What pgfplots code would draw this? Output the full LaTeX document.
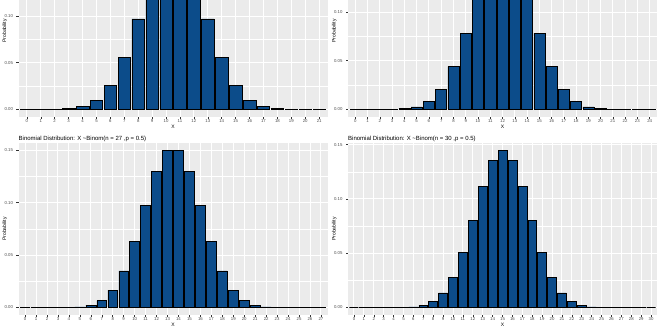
\documentclass[border=0pt]{standalone}
\usepackage{fontspec}
\setmainfont{Liberation Sans}
\usepackage{pgfplots}
\pgfplotsset{compat=1.18}
\definecolor{esq}{HTML}{0C4C8A}
\definecolor{panelbg}{HTML}{EBEBEB}
\definecolor{gray30}{HTML}{4D4D4D}
\definecolor{gray20}{HTML}{333333}

\pgfplotsset{binom/.style={
  scale only axis, width=309pt, height=172.5pt,
  /pgf/number format/assume math mode=true,
  axis background/.style={fill=panelbg},
  axis line style={draw=none},
  grid=both,
  major grid style={white, line width=0.9pt},
  minor grid style={white, line width=0.45pt},
  tick pos=left, tick align=outside,
  major tick length=2pt, minor tick length=0pt,
  every tick/.style={gray20, line width=0.5pt},
  xmin=-0.6, xmax=#1+0.6, xtick={0,...,#1},
  ytick={0,0.05,0.10,0.15}, yticklabels={0.00,0.05,0.10,0.15},
  minor ytick={0.025,0.075,0.125},
  tick label style={font=\fontsize{4.3}{5}\selectfont, text=gray30},
  xticklabel style={anchor=center},
  xticklabel shift=1.6pt,
  xlabel={X}, ylabel={Probability},
  label style={font=\fontsize{5}{6}\selectfont, text=black},
  xlabel style={at={(axis description cs:0.5,-0.056)}, anchor=center},
  ylabel style={at={(axis description cs:-0.044,0.5)}, anchor=center},
  every axis title/.style={at={(axis description cs:0,1)}, anchor=base west,
     yshift=2.7pt, inner sep=0pt, font=\fontsize{6}{7.2}\selectfont},
  ybar, bar width=0.9,
}}
\tikzset{bars/.style={fill=esq, draw=black, line width=0.5pt}}

\begin{document}
\begin{tikzpicture}[x=1pt,y=1pt]
\useasboundingbox (0,0) rectangle (660,330);
\clip (0,0) rectangle (660,330);

% n = 21
\begin{axis}[binom=21, at={(18.5pt,212.9pt)}, anchor=south west,
  ymin=-0.0084094, ymax=0.1765974,
  title={Binomial Distribution: X \textasciitilde Binom(n = 21 ,p = 0.5)}]
\addplot[bars] coordinates {
(0,0.000000477) (1,0.000010014) (2,0.00010014) (3,0.0006342) (4,0.0028539)
(5,0.0097032) (6,0.025875) (7,0.055447) (8,0.097032) (9,0.140157)
(10,0.168188) (11,0.168188) (12,0.140157) (13,0.097032) (14,0.055447)
(15,0.025875) (16,0.0097032) (17,0.0028539) (18,0.0006342) (19,0.00010014)
(20,0.000010014) (21,0.000000477)};
\end{axis}

% n = 24
\begin{axis}[binom=24, at={(348pt,212.9pt)}, anchor=south west,
  ymin=-0.008059, ymax=0.169239,
  title={Binomial Distribution: X \textasciitilde Binom(n = 24 ,p = 0.5)}]
\addplot[bars] coordinates {
(0,0.00000006) (1,0.00000143) (2,0.00001645) (3,0.00012064) (4,0.00063336)
(5,0.0025334) (6,0.0080225) (7,0.020629) (8,0.043837) (9,0.077933)
(10,0.116900) (11,0.148782) (12,0.161180) (13,0.148782) (14,0.116900)
(15,0.077933) (16,0.043837) (17,0.020629) (18,0.0080225) (19,0.0025334)
(20,0.00063336) (21,0.00012064) (22,0.00001645) (23,0.00000143) (24,0.00000006)};
\end{axis}

% n = 27
\begin{axis}[binom=27, at={(18.5pt,14.7pt)}, anchor=south west,
  ymin=-0.0074723, ymax=0.1569183,
  title={Binomial Distribution: X \textasciitilde Binom(n = 27 ,p = 0.5)}]
\addplot[bars] coordinates {
(0,0.0000000075) (1,0.0000002) (2,0.000002615) (3,0.00002179) (4,0.00013076)
(5,0.00060149) (6,0.0022054) (7,0.0066163) (8,0.016541) (9,0.034920)
(10,0.062855) (11,0.097140) (12,0.129520) (13,0.149446) (14,0.149446)
(15,0.129520) (16,0.097140) (17,0.062855) (18,0.034920) (19,0.016541)
(20,0.0066163) (21,0.0022054) (22,0.00060149) (23,0.00013076) (24,0.00002179)
(25,0.000002615) (26,0.0000002) (27,0.0000000075)};
\end{axis}

% n = 30
\begin{axis}[binom=30, at={(348pt,14.7pt)}, anchor=south west,
  ymin=-0.0072232, ymax=0.1516872,
  title={Binomial Distribution: X \textasciitilde Binom(n = 30 ,p = 0.5)}]
\addplot[bars] coordinates {
(0,0.00000000093) (1,0.000000028) (2,0.000000405) (3,0.000003781) (4,0.000025523)
(5,0.00013272) (6,0.00055299) (7,0.001896) (8,0.005451) (9,0.013325)
(10,0.027982) (11,0.050876) (12,0.080553) (13,0.111535) (14,0.135435)
(15,0.144464) (16,0.135435) (17,0.111535) (18,0.080553) (19,0.050876)
(20,0.027982) (21,0.013325) (22,0.005451) (23,0.001896) (24,0.00055299)
(25,0.00013272) (26,0.000025523) (27,0.000003781) (28,0.000000405) (29,0.000000028)
(30,0.00000000093)};
\end{axis}
\end{tikzpicture}
\end{document}
